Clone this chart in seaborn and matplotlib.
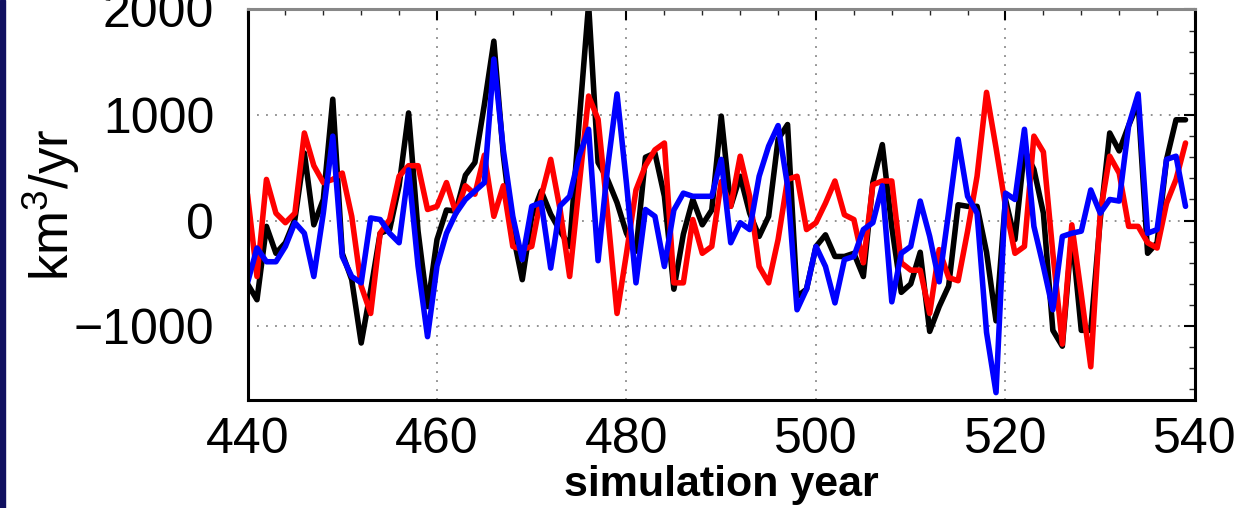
import numpy as np
import pandas as pd
import matplotlib
matplotlib.use("Agg")
import matplotlib.pyplot as plt
import seaborn as sns
from matplotlib.patches import Rectangle

years = list(range(440, 540))

black = [-600, -750, -55, -310, -210, 10, 640, -40, 200, 1150,
         -310, -560, -1160, -660, -120, -85, 330, 1020, -100, -815,
         -180, 100, 90, 430, 550, 1100, 1700, 620, -120, -560,
         40, 280, 60, -100, -245, 930, 2050, 550, 390, 170,
         -120, -290, 600, 640, 230, -650, -130, 200, -40, 100,
         990, 135, 420, 70, -150, 40, 770, 910, -720, -650,
         -245, -135, -340, -340, -310, -530, 360, 720, -60, -680,
         -600, -300, -1050, -815, -620, 150, 135, 135, -300, -950,
         200, -180, 670, 485, 70, -1040, -1190, -120, -1040, -1040,
         10, 830, 660, 900, 1120, -310, -210, 580, 955, 955]

red = [250, -530, 390, 70, -20, 70, 830, 520, 360, 390,
       450, 40, -620, -880, -120, 10, 420, 520, 520, 105,
       135, 360, 70, 330, 250, 620, 40, 330, -245, -275,
       -245, 230, 580, 100, -530, 330, 1180, 960, 70, -880,
       -310, 290, 520, 670, 735, -590, -590, 10, -310, -245,
       370, 135, 610, 230, -435, -590, -180, 390, 420, -85,
       -20, 165, 375, 55, 10, -400, 340, 375, 375, -400,
       -470, -470, -880, -275, -540, -570, -100, 420, 1215, 690,
       135, -310, -245, 800, 650, -310, -1170, -40, -700, -1385,
       70, 610, 450, -55, -55, -210, -260, 165, 390, 735]

blue = [-590, -260, -390, -390, -245, -20, -120, -530, 70, 800,
        -340, -530, -590, 25, 10, -120, -210, 480, -430, -1100,
        -430, -120, 70, 200, 280, 360, 1530, 670, 40, -370,
        135, 170, -450, 140, 230, 610, 865, -380, 500, 1200,
        350, -590, 105, 40, -435, 100, 260, 230, 230, 230,
        580, -210, -20, -85, 420, 705, 900, 330, -845, -650,
        -245, -435, -780, -370, -340, -85, -20, 330, -770, -310,
        -245, 185, -150, -580, 80, 770, 230, 70, -1060, -1630,
        260, 200, 865, -55, -435, -845, -150, -120, -100, 290,
        70, 200, 185, 900, 1200, -120, -85, 580, 610, 135]

x_ticks = [440, 460, 480, 500, 520, 540]
y_ticks = [-1000, 0, 1000, 2000]

sns.set_style("white")
plt.rcParams['font.family'] = ['Liberation Sans', 'DejaVu Sans']
plt.rcParams['mathtext.fontset'] = 'custom'
plt.rcParams['mathtext.rm'] = 'Liberation Sans'

fig = plt.figure(figsize=(12.4, 5.08), dpi=100)
ax = fig.add_axes([0.1996, 0.2126, 0.7641, 0.7687])

df = pd.DataFrame({"year": years, "black": black, "red": red, "blue": blue})
for col, c in [("black", "black"), ("red", "#ff0000"), ("blue", "#0000ff")]:
    sns.lineplot(data=df, x="year", y=col, color=c, linewidth=4.0, ax=ax)

ax.set_xlim(440, 540)
ax.set_ylim(-1700, 2000)
ax.set_xticks(x_ticks)
ax.set_yticks(y_ticks)
ax.set_xticks(np.arange(440, 541, 4), minor=True)
ax.set_yticks(np.arange(-1600, 2001, 200), minor=True)
ax.set_yticklabels(["\u22121000", "0", "1000", "2000"])
ax.tick_params(which="major", direction="in", length=8, width=1.5,
               top=True, right=True, labelsize=36, colors="black")
ax.tick_params(axis="y", which="major", pad=24)
ax.tick_params(axis="x", which="major", pad=12)
ax.tick_params(which="minor", direction="in", length=4, width=1,
               top=True, right=True)
ax.grid(True, which="major", linestyle=(0, (1, 4)), color="#888888", linewidth=1.3)

for s in ax.spines.values():
    s.set_linewidth(2.2)
    s.set_color("black")
ax.spines["top"].set_color("#888888")

ax.set_xlabel("simulation year", fontsize=31, fontweight="bold",
              color="black", labelpad=2)
ax.set_ylabel("km$^3$/yr", fontsize=38, color="black", labelpad=-6)

# slide edge on the left
fig.patches.append(Rectangle((0, 0), 0.004, 1, transform=fig.transFigure,
                             color="#101060", zorder=10))

fig.savefig("out.png", dpi=100)
